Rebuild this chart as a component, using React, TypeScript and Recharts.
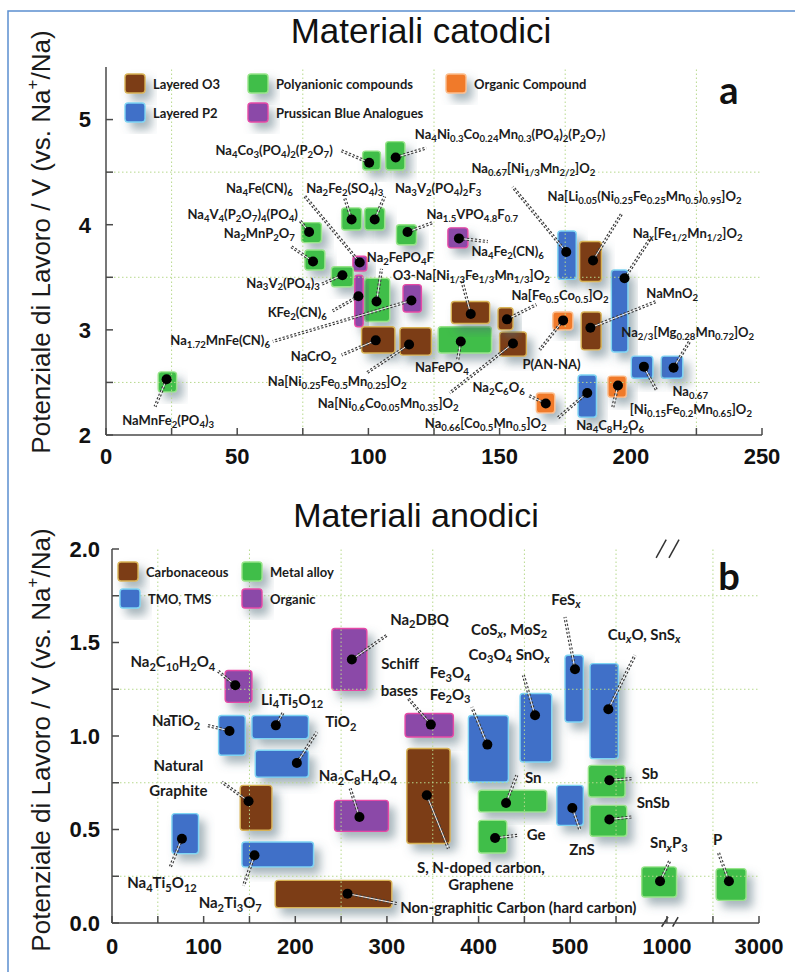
import React from 'react';
import {
  ScatterChart,
  Scatter,
  XAxis,
  YAxis,
  ReferenceArea,
  ReferenceLine,
} from 'recharts';

// ---- top panel: cathodes (capacity mAh/g, potential V) ----
const cathodeKind = [
  'poly', 'poly', 'poly', 'poly', 'poly', 'poly', 'poly', 'pba', 'poly', 'poly',
  'pba', 'pba', 'o3', 'o3', 'poly', 'o3', 'o3', 'o3', 'org', 'o3',
  'p2', 'p2', 'p2', 'org', 'p2', 'org', 'p2', 'o3', 'pba', 'poly',
];
const cathodeCapacity = [
  100.3, 110.4, 93.6, 102.4, 114.9, 77.4, 78.9, 96.7, 103.1, 90.1,
  96.2, 116.4, 102.8, 115.5, 135.2, 155.1, 139.0, 152.8, 174.2, 184.6,
  197.6, 216.3, 205.0, 167.6, 183.4, 195.1, 175.4, 185.6, 134.5, 23.1,
];
const cathodeVoltage = [
  4.59, 4.64, 4.05, 4.05, 3.93, 3.93, 3.65, 3.64, 3.27, 3.52,
  3.32, 3.28, 2.9, 2.86, 2.89, 2.87, 3.15, 3.1, 3.09, 3.02,
  3.49, 2.64, 2.65, 2.3, 2.4, 2.47, 3.74, 3.66, 3.87, 2.53,
];
// [capacity from, capacity to, V from, V to]
const cathodeBoxes = [
  [97.8, 104.6, 4.52, 4.7], [106.6, 113.9, 4.52, 4.79], [89.8, 97.4, 3.95, 4.16],
  [98.6, 106.2, 3.95, 4.16], [110.7, 118.3, 3.81, 4.0], [74.5, 82.1, 3.83, 4.02],
  [75.8, 83.4, 3.57, 3.76], [94.1, 99.4, 3.56, 3.7], [98.6, 108.1, 3.08, 3.49],
  [85.9, 94.2, 3.41, 3.6], [94.8, 98.0, 3.03, 3.52], [113.2, 120.2, 3.17, 3.43],
  [97.4, 110.1, 2.78, 3.03], [112.0, 124.0, 2.76, 3.02], [126.6, 146.9, 2.78, 3.03],
  [150.0, 160.2, 2.75, 2.98], [131.6, 146.2, 3.06, 3.27], [149.4, 155.1, 3.0, 3.21],
  [170.3, 177.9, 3.0, 3.17], [181.1, 188.7, 2.81, 3.17], [192.6, 198.9, 2.79, 3.57],
  [211.6, 219.8, 2.54, 2.75], [200.2, 208.4, 2.54, 2.75], [164.0, 171.0, 2.21, 2.4],
  [179.9, 186.9, 2.17, 2.57], [191.3, 198.3, 2.36, 2.56], [172.2, 179.2, 3.48, 3.94],
  [180.5, 188.8, 3.46, 3.84], [130.3, 137.9, 3.78, 3.97], [19.9, 26.9, 2.41, 2.6],
];
const cathodeLeaderTo = [
  [89.1, 4.71], [122.1, 4.73], [91.0, 4.25], [106.2, 4.27], [124.5, 4.02],
  [73.9, 4.04], [70.1, 3.8], [75.8, 4.27], [105.0, 3.58], [81.8, 3.43],
  [86.4, 3.18], [63.6, 2.89], [89.8, 2.76], [99.3, 2.59], [134.0, 2.71],
  [131.0, 2.4], [135.5, 3.48], [164.0, 3.24], [165.3, 2.81], [209.7, 3.27],
  [207.2, 3.86], [222.4, 2.89], [209.7, 2.43], [160.7, 2.38], [172.1, 2.16],
  [193.1, 2.26], [155.0, 4.36], [196.4, 4.1], [145.5, 3.84], [18.7, 2.27],
];
const cathodeLabels: [string, number, number, string][] = [
  ['Na_{4}Co_{3}(PO_{4})_{2}(P_{2}O_{7})', 86.4, 4.71, 'end'],
  ['Na_{4}Ni_{0.3}Co_{0.24}Mn_{0.3}(PO_{4})_{2}(P_{2}O_{7})', 117.7, 4.86, 'start'],
  ['Na_{2}Fe_{2}(SO_{4})_{3}', 91.0, 4.35, 'middle'],
  ['Na_{3}V_{2}(PO_{4})_{2}F_{3}', 110.1, 4.35, 'start'],
  ['Na_{1.5}VPO_{4.8}F_{0.7}', 122.1, 4.1, 'start'],
  ['Na_{4}V_{4}(P_{2}O_{7})_{4}(PO_{4})', 73.1, 4.1, 'end'],
  ['Na_{2}MnP_{2}O_{7}', 72.0, 3.92, 'end'],
  ['Na_{4}Fe(CN)_{6}', 71.2, 4.35, 'end'],
  ['Na_{2}FePO_{4}F', 99.4, 3.69, 'start'],
  ['Na_{3}V_{2}(PO_{4})_{3}', 81.5, 3.45, 'end'],
  ['KFe_{2}(CN)_{6}', 84.2, 3.17, 'end'],
  ['Na_{1.72}MnFe(CN)_{6}', 62.5, 2.9, 'end'],
  ['NaCrO_{2}', 87.9, 2.75, 'end'],
  ['Na[Ni_{0.25}Fe_{0.5}Mn_{0.25}]O_{2}', 88.1, 2.51, 'middle'],
  ['NaFePO_{4}', 128.0, 2.65, 'middle'],
  ['Na[Ni_{0.6}Co_{0.05}Mn_{0.35}]O_{2}', 80.7, 2.3, 'start'],
  ['O3-Na[Ni_{1/3}Fe_{1/3}Mn_{1/3}]O_{2}', 109.3, 3.52, 'start'],
  ['Na[Fe_{0.5}Co_{0.5}]O_{2}', 154.5, 3.33, 'start'],
  ['P(AN-NA)', 169.8, 2.68, 'middle'],
  ['NaMnO_{2}', 205.9, 3.35, 'start'],
  ['Na_{x}[Fe_{1/2}Mn_{1/2}]O_{2}', 200.7, 3.92, 'start'],
  ['Na_{2/3}[Mg_{0.28}Mn_{0.72}]O_{2}', 196.4, 2.98, 'start'],
  ['Na_{0.67}', 215.9, 2.415, 'start'],
  ['[Ni_{0.15}Fe_{0.2}Mn_{0.65}]O_{2}', 199.6, 2.25, 'start'],
  ['Na_{2}C_{6}O_{6}', 159.6, 2.46, 'end'],
  ['Na_{0.66}[Co_{0.5}Mn_{0.5}]O_{2}', 121.5, 2.11, 'start'],
  ['Na_{4}C_{8}H_{2}O_{6}', 179.2, 2.095, 'start'],
  ['Na_{0.67}[Ni_{1/3}Mn_{2/2}]O_{2}', 139.3, 4.54, 'start'],
  ['Na[Li_{0.05}(Ni_{0.25}Fe_{0.25}Mn_{0.5})_{0.95}]O_{2}', 168.3, 4.27, 'start'],
  ['Na_{4}Fe_{2}(CN)_{6}', 139.3, 3.75, 'start'],
  ['NaMnFe_{2}(PO_{4})_{3}', 23.7, 2.14, 'middle'],
];
const cathodeXTicks = [0, 25, 50, 75, 100, 125, 150, 175, 200, 225, 250];
const cathodeYTicks = [2, 2.5, 3, 3.5, 4, 4.5, 5];
const cathodeGridX = [25, 75, 125, 175, 225];
const cathodeGridY = [2.5, 3.5, 4.5];

// ---- bottom panel: anodes ----
const anodeKind = [
  'org', 'tmo', 'tmo', 'tmo', 'carb', 'tmo', 'tmo', 'carb', 'org', 'org', 'org', 'carb',
  'tmo', 'tmo', 'tmo', 'tmo', 'alloy', 'alloy', 'tmo', 'alloy', 'alloy', 'alloy', 'alloy',
];
const anodeCapacity = [
  134.5, 128.2, 178.8, 201.7, 149, 76.3, 155.5, 257, 261.7, 347.9, 270, 343.5,
  409.6, 461.6, 505.2, 541.6, 430, 418, 502.3, 542.7, 542.7, 598, 2347,
];
const anodeVoltage = [
  1.271, 1.027, 1.057, 0.856, 0.651, 0.451, 0.362, 0.157, 1.409, 1.061, 0.567, 0.683,
  0.954, 1.111, 1.357, 1.143, 0.642, 0.455, 0.615, 0.763, 0.553, 0.223, 0.223,
];
const anodeBoxes = [
  [123.5, 152.7, 1.18, 1.35], [116.3, 145.4, 0.897, 1.11], [152.7, 214.4, 0.986, 1.11],
  [156.3, 214.4, 0.78, 0.924], [139.9, 174.5, 0.496, 0.736], [65.4, 94.4, 0.371, 0.585],
  [141.8, 219.9, 0.3, 0.433], [178.1, 305.3, 0.082, 0.228], [239.9, 278.1, 1.244, 1.575],
  [319.8, 372.5, 0.995, 1.12], [242.8, 301.6, 0.49, 0.656], [321.7, 368.9, 0.425, 0.933],
  [388.9, 432.5, 0.754, 1.11], [445.3, 479.8, 0.861, 1.227], [494.3, 514.3, 1.075, 1.432],
  [521.6, 552.5, 0.879, 1.387], [399.8, 474.4, 0.594, 0.71], [399.8, 430.7, 0.374, 0.549],
  [485.3, 514.3, 0.522, 0.736], [519.8, 559.8, 0.674, 0.843], [521.6, 561.6, 0.464, 0.629],
  [578, 1209, 0.139, 0.3], [2069, 2719, 0.121, 0.291],
];
const anodeLeaderTo = [
  [114.5, 1.352], [103.6, 1.057], [187.1, 1.128], [223.6, 1.021], [120, 0.754],
  [63.6, 0.3], [143.5, 0.2], [310.8, 0.104], [299.9, 1.539], [323.4, 1.2],
  [259.9, 0.719], [367.1, 0.398], [392.6, 1.155], [448.9, 1.325], [494.3, 1.636],
  [570.7, 1.432], [441.7, 0.79], [443.4, 0.469], [510.7, 0.496], [567.1, 0.772],
  [567.1, 0.567], [1066, 0.335], [2114, 0.38],
];
const anodeLabels: [string, number, number, string][] = [
  ['Na_{2}C_{10}H_{2}O_{4}', 112.6, 1.4, 'end'],
  ['NaTiO_{2}', 96.3, 1.084, 'end'],
  ['Li_{4}Ti_{5}O_{12}', 196.6, 1.2, 'middle'],
  ['TiO_{2}', 232.6, 1.08, 'start'],
  ['Natural', 72.5, 0.843, 'middle'],
  ['Graphite', 72.5, 0.71, 'middle'],
  ['Na_{4}Ti_{5}O_{12}', 54.5, 0.219, 'middle'],
  ['Na_{2}Ti_{3}O_{7}', 129, 0.112, 'middle'],
  ['Non-graphitic Carbon (hard carbon)', 314.4, 0.086, 'start'],
  ['Na_{2}DBQ', 303.5, 1.628, 'start'],
  ['Schiff', 314.4, 1.389, 'middle'],
  ['bases', 313.5, 1.244, 'middle'],
  ['Na_{2}C_{8}H_{4}O_{4}', 268.3, 0.79, 'middle'],
  ['S, N-doped carbon,', 402.5, 0.3, 'middle'],
  ['Graphene', 402.5, 0.211, 'middle'],
  ['Fe_{3}O_{4}', 368.9, 1.342, 'middle'],
  ['Fe_{2}O_{3}', 368.9, 1.227, 'middle'],
  ['CoS_{x}, MoS_{2}', 433.3, 1.574, 'middle'],
  ['Co_{3}O_{4} SnO_{x}', 433.3, 1.44, 'middle'],
  ['FeS_{x}', 495.4, 1.735, 'middle'],
  ['Cu_{x}O, SnS_{x}', 580.6, 1.548, 'middle'],
  ['Sn', 450.7, 0.78, 'start'],
  ['Ge', 452.6, 0.478, 'start'],
  ['ZnS', 512.9, 0.398, 'middle'],
  ['Sb', 578, 0.8, 'start'],
  ['SnSb', 572.5, 0.647, 'start'],
  ['Sn_{x}P_{3}', 1044, 0.433, 'middle'],
  ['P', 2104, 0.451, 'middle'],
];
const anodeXTicks = [0, 50, 100, 150, 200, 250, 300, 350, 400, 450, 500, 550, 1000, 2000, 3000];
const anodeXLabels = [0, 100, 200, 300, 400, 500, 1000, 3000];
const anodeYTicks = [0, 0.25, 0.5, 0.75, 1, 1.25, 1.5, 1.75, 2];
const anodeGridX = [50, 150, 250, 350, 450, 550, 2000];
const anodeGridY = [0.25, 0.75, 1.25, 1.75];

// broken capacity axis: linear to 600, squeezed gap, then 1000..3000 compressed
const bx = (v: number) =>
  v <= 600 ? v : v <= 1000 ? 600 + ((v - 600) * 5.5) / 400 : 605.5 + (v - 1000) * 0.05025;

const FILL: Record<string, string> = {
  o3: '#7b3c14', carb: '#7b3c14', p2: '#3f6fc8', tmo: '#3f6fc8',
  poly: '#3fbe48', alloy: '#3fbe48', pba: '#8b48a8', org: '#8b48a8',
};
const EDGE: Record<string, string> = {
  o3: '#d8b356', carb: '#d8b356', p2: '#7ed4f3', tmo: '#7ed4f3',
  poly: '#97e489', alloy: '#97e489', pba: '#e54aa6', org: '#e54aa6',
};
const ORANGE = '#f07a2b';
const fillOf = (k: string, top: boolean) => (top && k === 'org' ? ORANGE : FILL[k]);
const edgeOf = (k: string, top: boolean) => (top && k === 'org' ? '#fbbd8c' : EDGE[k]);

const LABEL_FONT = "Lato, 'Open Sans', sans-serif";
const AXIS_FONT = "'Liberation Sans', Arial, sans-serif";
const axisStroke = { stroke: '#4a4a4a', strokeWidth: 1.5 };

function RichText({ x, y, text, anchor, size }: any) {
  const parts = text.split(/(_\{[^}]*\}|\^\{[^}]*\})/).filter(Boolean);
  let cur = 0;
  return (
    <text
      x={x}
      y={y}
      textAnchor={anchor}
      dominantBaseline="central"
      fontSize={size}
      fontWeight={700}
      fontFamily={LABEL_FONT}
      fill="#1b1b1b"
    >
      {parts.map((p: string, i: number) => {
        let off = 0;
        let t = p;
        let fs = size;
        if (p.startsWith('_{')) {
          off = 0.3 * size;
          t = p.slice(2, -1);
          fs = size * 0.74;
        } else if (p.startsWith('^{')) {
          off = -0.38 * size;
          t = p.slice(2, -1);
          fs = size * 0.74;
        }
        const dy = off - cur;
        cur = off;
        return (
          <tspan key={i} dy={dy} fontSize={fs} fontStyle={t === 'x' ? 'italic' : undefined}>
            {t}
          </tspan>
        );
      })}
    </text>
  );
}

const Shadow = ({ id }: { id: string }) => (
  <defs>
    <filter id={id} x="-60%" y="-60%" width="220%" height="220%">
      <feDropShadow dx="6" dy="7" stdDeviation="5" floodColor="#4f6b78" floodOpacity="0.5" />
    </filter>
  </defs>
);

const boxShape = (fill: string, edge: string, fid: string) => (p: any) => (
  <rect
    x={p.x}
    y={p.y}
    width={p.width}
    height={p.height}
    rx={3}
    ry={3}
    fill={fill}
    stroke={edge}
    strokeWidth={1.4}
    filter={`url(#${fid})`}
  />
);

const dotShape = (p: any) => <circle cx={p.cx} cy={p.cy} r={5} fill="#000" />;

function Panel({
  top, kinds, caps, volts, boxes, leaders, labels, fx, xDomain, xTicks, xFmt, yDomain, yTicks, yFmt,
  gridX, gridY, margin, yWidth, xHeight, height, labelSize, fid, xMargin, yMargin, extra,
}: any) {
  const dots = caps.map((c: number, i: number) => ({ x: fx(c), y: volts[i] }));
  const labelData = labels.map((l: any) => ({ x: fx(l[1]), y: l[2], text: l[0], anchor: l[3] }));
  const tickStyle = { fill: '#111', fontSize: 22, fontWeight: 700, fontFamily: AXIS_FONT };
  const gridStyle = { stroke: '#b7d98d', strokeDasharray: '1.5 2.5', strokeWidth: 1 };
  const segs = caps.map((c: number, i: number) => [
    { x: fx(c), y: volts[i] },
    { x: fx(leaders[i][0]), y: leaders[i][1] },
  ]);
  return (
    <ScatterChart width={795} height={height} margin={margin}>
      <Shadow id={fid} />
      <XAxis
        type="number"
        dataKey="x"
        domain={xDomain}
        ticks={xTicks.map(fx)}
        tickFormatter={xFmt}
        interval={0}
        height={xHeight}
        tickSize={-7}
        tickMargin={xMargin}
        axisLine={axisStroke}
        tickLine={axisStroke}
        tick={tickStyle}
        allowDataOverflow
      />
      <XAxis
        xAxisId="top"
        orientation="top"
        type="number"
        domain={xDomain}
        ticks={xTicks.map(fx)}
        tickFormatter={() => ''}
        interval={0}
        height={0}
        tickSize={-7}
        axisLine={axisStroke}
        tickLine={axisStroke}
        allowDataOverflow
      />
      <YAxis
        type="number"
        dataKey="y"
        domain={yDomain}
        ticks={yTicks}
        tickFormatter={yFmt}
        interval={0}
        width={yWidth}
        tickSize={-7}
        tickMargin={yMargin}
        axisLine={axisStroke}
        tickLine={axisStroke}
        tick={tickStyle}
        allowDataOverflow
      />
      <YAxis
        yAxisId="right"
        orientation="right"
        type="number"
        domain={yDomain}
        width={0}
        tick={false}
        tickLine={false}
        axisLine={axisStroke}
      />
      {gridX.map((v: number) => (
        <ReferenceLine key={'gx' + v} x={fx(v)} {...gridStyle} />
      ))}
      {gridY.map((v: number) => (
        <ReferenceLine key={'gy' + v} y={v} {...gridStyle} />
      ))}
      {boxes.map((b: number[], i: number) => (
        <ReferenceArea
          key={'b' + i}
          x1={fx(b[0])}
          x2={fx(b[1])}
          y1={b[2]}
          y2={b[3]}
          ifOverflow="visible"
          shape={boxShape(fillOf(kinds[i], top), edgeOf(kinds[i], top), fid)}
        />
      ))}
      {segs.map((s: any, i: number) => (
        <ReferenceLine
          key={'l' + i}
          segment={s}
          stroke="#3c3c3c"
          strokeWidth={3.2}
          strokeDasharray="2.2 1.8"
          ifOverflow="visible"
        />
      ))}
      {segs.map((s: any, i: number) => (
        <ReferenceLine key={'w' + i} segment={s} stroke="#ffffff" strokeWidth={0.9} ifOverflow="visible" />
      ))}
      {extra}
      <Scatter data={dots} shape={dotShape} isAnimationActive={false} />
      <Scatter
        data={labelData}
        isAnimationActive={false}
        shape={(p: any) => (
          <RichText x={p.cx} y={p.cy} text={p.payload.text} anchor={p.payload.anchor} size={labelSize} />
        )}
      />
    </ScatterChart>
  );
}

const ident = (v: number) => v;

const LegendBox = ({ x, y, fill, edge, text }: any) => (
  <g>
    <rect x={x} y={y} width={20} height={19} rx={3} fill={fill} stroke={edge} strokeWidth={1.4} filter="url(#legSh)" />
    <text x={x + 28} y={y + 10} dominantBaseline="central" fontSize={13} fontWeight={700} fontFamily={LABEL_FONT} fill="#1b1b1b">
      {text}
    </text>
  </g>
);

const YTitle = ({ cy }: { cy: number }) => (
  <text
    transform={`translate(41,${cy}) rotate(-90)`}
    textAnchor="middle"
    dominantBaseline="central"
    fontSize={26}
    fontFamily={AXIS_FONT}
    fill="#1a1a1a"
  >
    Potenziale di Lavoro / V (vs. Na
    <tspan dy={-9} fontSize={17}>+</tspan>
    <tspan dy={9}>/Na)</tspan>
  </text>
);

export default function App() {
  const breakX = bx(800);
  const breakMarks = [
    [[breakX - 9, 1.952], [breakX + 2, 2.05]],
    [[breakX + 5, 1.952], [breakX + 16, 2.05]],
    [[breakX - 3, -0.02], [breakX + 4, 0.032]],
    [[breakX + 9, -0.02], [breakX + 15, 0.032]],
  ].map((s, i) => (
    <ReferenceLine
      key={'br' + i}
      segment={[{ x: s[0][0], y: s[0][1] }, { x: s[1][0], y: s[1][1] }]}
      stroke="#333"
      strokeWidth={1.5}
      ifOverflow="visible"
    />
  ));

  return (
    <div style={{ position: 'absolute', left: 0, top: 0, width: 795, height: 972, background: '#fff', overflow: 'hidden' }}>
      <div style={{ position: 'absolute', left: 0, top: 0 }}>
        <Panel
          top
          kinds={cathodeKind}
          caps={cathodeCapacity}
          volts={cathodeVoltage}
          boxes={cathodeBoxes}
          leaders={cathodeLeaderTo}
          labels={cathodeLabels}
          fx={ident}
          xDomain={[0, 250]}
          xTicks={cathodeXTicks}
          xFmt={(v: number) => (v % 50 === 0 ? String(v) : '')}
          yDomain={[2, 5.5]}
          yTicks={cathodeYTicks}
          yFmt={(v: number) => (Number.isInteger(v) ? String(v) : '')}
          gridX={cathodeGridX}
          gridY={cathodeGridY}
          margin={{ top: 67, right: 33, bottom: 0, left: 0 }}
          yWidth={106}
          xHeight={55}
          height={490}
          labelSize={13}
          fid="shA"
          xMargin={20}
          yMargin={22}
        />
      </div>
      <div style={{ position: 'absolute', left: 0, top: 490 }}>
        <Panel
          top={false}
          kinds={anodeKind}
          caps={anodeCapacity}
          volts={anodeVoltage}
          boxes={anodeBoxes}
          leaders={anodeLeaderTo}
          labels={anodeLabels}
          fx={bx}
          xDomain={[0, bx(3000)]}
          xTicks={anodeXTicks}
          xFmt={(v: number) => {
            const hit = anodeXLabels.find((l) => Math.abs(bx(l) - v) < 0.01);
            return hit === undefined ? '' : String(hit);
          }}
          yDomain={[0, 2]}
          yTicks={anodeYTicks}
          yFmt={(v: number) => (Math.abs(v * 2 - Math.round(v * 2)) < 1e-6 ? v.toFixed(1) : '')}
          gridX={anodeGridX}
          gridY={anodeGridY}
          margin={{ top: 59, right: 36, bottom: 0, left: 0 }}
          yWidth={112}
          xHeight={49}
          height={482}
          labelSize={15}
          fid="shB"
          xMargin={22}
          yMargin={19}
          extra={breakMarks}
        />
      </div>
      <svg width={795} height={972} style={{ position: 'absolute', left: 0, top: 0, pointerEvents: 'none' }}>
        <defs>
          <filter id="legSh" x="-60%" y="-60%" width="220%" height="220%">
            <feDropShadow dx="6" dy="7" stdDeviation="5" floodColor="#4f6b78" floodOpacity="0.5" />
          </filter>
        </defs>
        <rect x={8} y={11} width={820} height={1000} fill="none" stroke="#5b8fd0" strokeWidth={1.5} />
        <text x={421} y={43} textAnchor="middle" fontSize={35} fontFamily={AXIS_FONT} fill="#111">
          Materiali catodici
        </text>
        <text x={416} y={527} textAnchor="middle" fontSize={34} fontFamily={AXIS_FONT} fill="#111">
          Materiali anodici
        </text>
        <YTitle cy={242} />
        <YTitle cy={740} />
        <LegendBox x={125} y={74} fill={FILL.o3} edge={EDGE.o3} text="Layered O3" />
        <LegendBox x={125} y={103} fill={FILL.p2} edge={EDGE.p2} text="Layered P2" />
        <LegendBox x={248} y={74} fill={FILL.poly} edge={EDGE.poly} text="Polyanionic compounds" />
        <LegendBox x={248} y={103} fill={FILL.pba} edge={EDGE.pba} text="Prussican Blue Analogues" />
        <LegendBox x={446} y={74} fill={ORANGE} edge="#fbbd8c" text="Organic Compound" />
        <text x={729} y={104} textAnchor="middle" fontSize={38} fontWeight={700} fontFamily={LABEL_FONT} fill="#111">
          a
        </text>
        <LegendBox x={118} y={562} fill={FILL.carb} edge={EDGE.carb} text="Carbonaceous" />
        <LegendBox x={242} y={562} fill={FILL.alloy} edge={EDGE.alloy} text="Metal alloy" />
        <LegendBox x={120} y={589} fill={FILL.tmo} edge={EDGE.tmo} text="TMO, TMS" />
        <LegendBox x={242} y={589} fill={FILL.org} edge={EDGE.org} text="Organic" />
        <text x={729} y={590} textAnchor="middle" fontSize={38} fontWeight={700} fontFamily={LABEL_FONT} fill="#111">
          b
        </text>
      </svg>
    </div>
  );
}
